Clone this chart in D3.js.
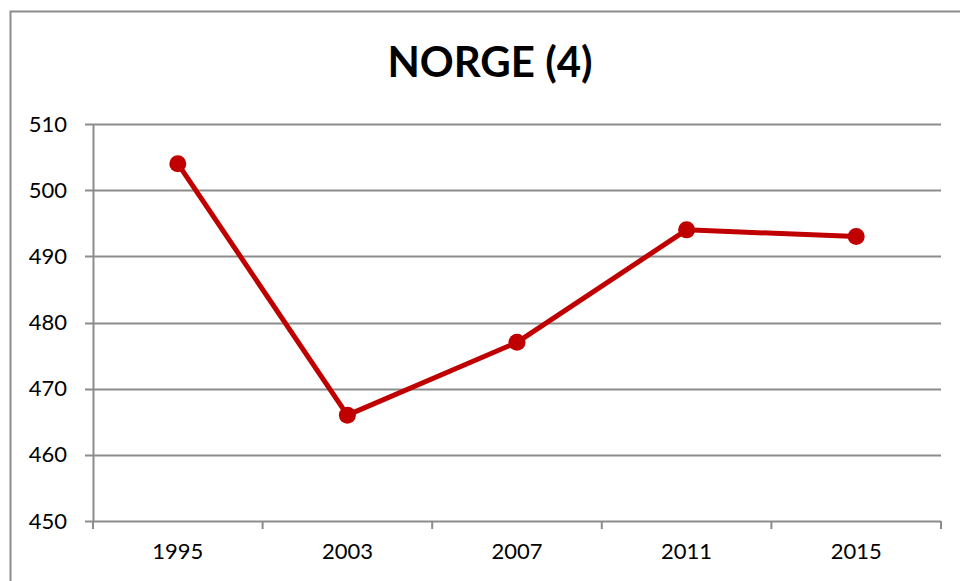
<html>
<head>
	<script src="https://d3js.org/d3.v7.min.js"></script>
	<style>
		body { margin:0; background:#fff; }
		svg text { font-family: Lato, "Open Sans", sans-serif; fill:#000; }
	</style>
</head>
<body>
	<svg></svg>
</body>
<script type="text/javascript">
	// scores per survey year
	var data = [
		{"year":"1995", "score":504},
		{"year":"2003", "score":466},
		{"year":"2007", "score":477},
		{"year":"2011", "score":494},
		{"year":"2015", "score":493}
	];
	var margin = {
		"left":93,
		"right":19,
		"top":124,
		"bottom":60,
	};
	var width = 960;
	var height = 581;

	var svg = d3.select("svg")
		.attr("height", height)
		.attr("width", width);

	// outer chart border
	svg.append("rect")
		.attr("x", 10.5).attr("y", 11.5)
		.attr("width", 1000).attr("height", 1000)
		.attr("fill", "none")
		.attr("stroke", "#8c8c8c")
		.attr("stroke-width", 2);

	svg.append("text")
		.attr("x", 490).attr("y", 77)
		.attr("text-anchor", "middle")
		.style("font-size", "42px")
		.style("font-weight", "bold")
		.text("NORGE (4)");

	var x = d3.scaleBand()
		.range([margin.left, width-margin.right])
		.domain(data.map(function(d){return d.year;}));
	var y = d3.scaleLinear()
		.range([height-margin.bottom, margin.top])
		.domain([450, 510]);

	// gridlines
	svg.append("g")
		.selectAll("line")
		.data(y.ticks(6))
		.enter().append("line")
		.attr("x1", margin.left-8)
		.attr("x2", width-margin.right)
		.attr("y1", function(d){return Math.round(y(d))+0.5;})
		.attr("y2", function(d){return Math.round(y(d))+0.5;})
		.attr("stroke", "#8c8c8c")
		.attr("stroke-width", 2);

	var yAxis = d3.axisLeft(y).ticks(6).tickSize(0).tickPadding(26);
	var gy = svg.append("g")
		.attr("transform", "translate("+ margin.left +",0)")
		.call(yAxis);
	gy.select(".domain").attr("stroke", "#8c8c8c").attr("stroke-width", 2);
	gy.selectAll("text").style("font-size", "22px");

	var xAxis = d3.axisBottom(x).tickSize(0).tickPadding(22);
	var gx = svg.append("g")
		.attr("transform", "translate(0," + (height-margin.bottom) + ")")
		.call(xAxis);
	gx.select(".domain").remove();
	gx.selectAll("text").style("font-size", "22px");

	// category boundary ticks
	var edges = x.domain().map(function(d){return x(d);}).concat([x.range()[1]]);
	svg.append("g")
		.selectAll("line")
		.data(edges)
		.enter().append("line")
		.attr("x1", function(d){return d;})
		.attr("x2", function(d){return d;})
		.attr("y1", height-margin.bottom)
		.attr("y2", height-margin.bottom+8)
		.attr("stroke", "#8c8c8c")
		.attr("stroke-width", 2);

	var line = d3.line()
		.x(function(d){return x(d.year)+x.bandwidth()/2;})
		.y(function(d){return y(d.score);});

	svg.append("path")
		.datum(data)
		.attr("d", line)
		.attr("fill", "none")
		.attr("stroke", "#c00000")
		.attr("stroke-width", 5)
		.attr("stroke-linejoin", "round");

	svg.selectAll("dot")
		.data(data)
		.enter().append("circle")
		.attr("cx", function(d){return x(d.year)+x.bandwidth()/2;})
		.attr("cy", function(d){return y(d.score);})
		.attr("r", 8.5)
		.attr("fill", "#c00000");
</script>
</html>
